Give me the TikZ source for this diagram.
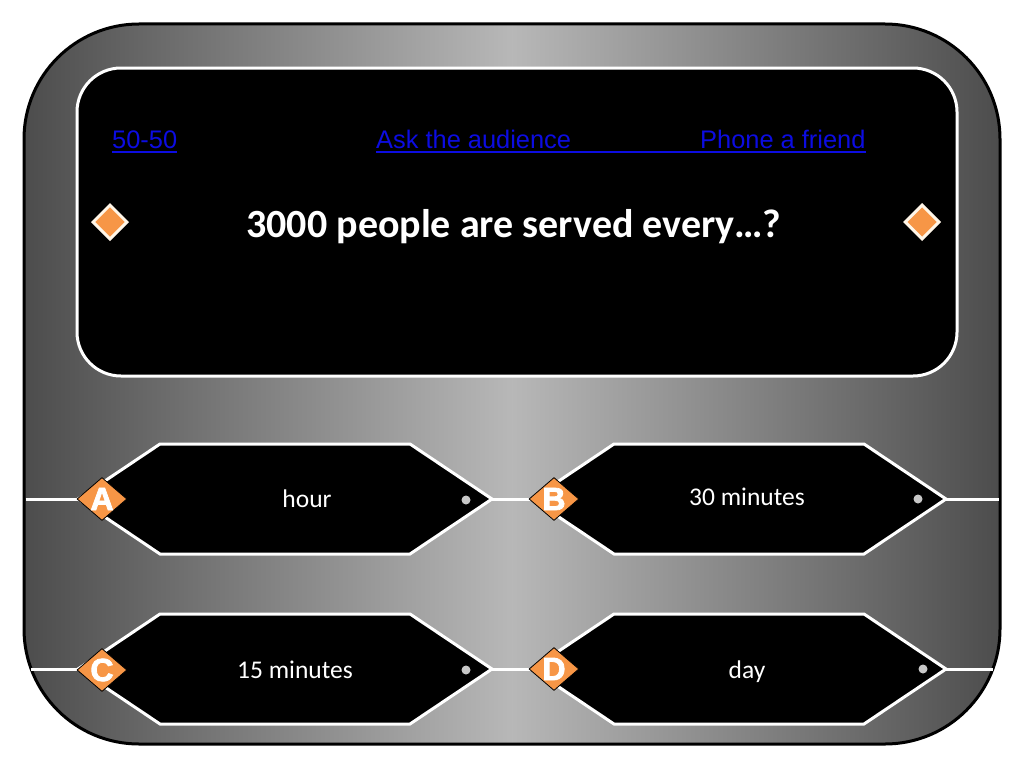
\documentclass[tikz,border=0pt]{standalone}
\usepackage{fontspec}
\setmainfont{Carlito}
\newfontfamily\arialf{Liberation Sans}
\newfontfamily\letterfont[FakeBold=2.5]{Liberation Sans}
\usetikzlibrary{shapes.geometric}
\definecolor{qorange}{HTML}{F79646}
\definecolor{linkblue}{RGB}{12,12,225}
\definecolor{dotgrey}{HTML}{C8C8C8}
\definecolor{cream}{HTML}{FFF6E8}
\tikzset{
 frame/.style={draw=black, line width=3pt, rounded corners=115pt, left color=black!70, right color=black!70, middle color=black!28},
 panel/.style={draw=white, line width=3pt, fill=black, rounded corners=44pt},
 hexbox/.style={draw=white, line width=3pt, fill=black, line join=miter},
 wire/.style={draw=white, line width=3pt},
 lifeline/.style={text=linkblue, font=\arialf\fontsize{25.4}{30}\selectfont, inner sep=0pt, anchor=base west},
 ulineblue/.style={draw=linkblue, line width=1.6pt},
 question/.style={text=white, font=\bfseries\fontsize{40}{46}\selectfont, inner sep=0pt, anchor=base},
 anstext/.style={text=white, font=\fontsize{25.5}{30}\selectfont, inner sep=0pt, anchor=base},
 letterbox/.style={diamond, fill=qorange, draw=black, line width=0.8pt, minimum width=50pt, minimum height=43pt, inner sep=0pt},
 lettertext/.style={text=white, font=\letterfont\bfseries\fontsize{32}{36}\selectfont, inner sep=0pt},
 topgem/.style={diamond, fill=qorange, draw=cream, line width=3pt, minimum width=35pt, minimum height=35pt, inner sep=0pt},
 knob/.style={circle, fill=dotgrey, minimum size=9pt, inner sep=0pt},
}
\newcommand\ansbox[3]{%
 \draw[hexbox] (#2-207,#3) coordinate (#1-l) -- (#2-125,#3-55) -- (#2+125,#3-55) -- (#2+207,#3) coordinate (#1-r) -- (#2+125,#3+55) -- (#2-125,#3+55) -- cycle;
}
\begin{document}
\begin{tikzpicture}[x=1pt,y=-1pt]
\useasboundingbox (0,0) rectangle (1024,768);
\fill[white] (0,0) rectangle (1024,768);
% outer frame
\path[frame] (24,24) rectangle (1000,744);
% question panel
\path[panel] (77,68) rectangle (957,376);
% lifelines
\node[lifeline] (ff) at (112,148) {50-50\ };
\node[lifeline] (ask) at (376,148) {Ask the audience};
\node[lifeline] (phone) at (700,148) {Phone a friend};
\draw[ulineblue] ([yshift=-4pt]ff.base west) -- ([yshift=-4pt]ff.base east);
\draw[ulineblue] ([yshift=-4pt]ask.base west) -- ([yshift=-4pt]phone.base east);
% question
\node[topgem] (g1) at (110,222) {};
\node[topgem] (g2) at (922,222) {};
\node[question] (q) at (514,237) {3000 people are served every…?};
% answer boxes
\ansbox{A}{285}{499}
\ansbox{B}{739}{499}
\ansbox{C}{285}{669}
\ansbox{D}{739}{669}
\coordinate (w1l) at (25.5,499);
\coordinate (w1r) at (998.5,499);
\coordinate (w2l) at (31,669);
\coordinate (w2r) at (993,669);
\draw[wire] (w1l) -- (A-l);
\draw[wire] (A-r) -- (B-l);
\draw[wire] (B-r) -- (w1r);
\draw[wire] (w2l) -- (C-l);
\draw[wire] (C-r) -- (D-l);
\draw[wire] (D-r) -- (w2r);
% answer texts
\node[anstext] (ta) at (307,507) {hour};
\node[anstext] (tb) at (747,505) {30 minutes};
\node[anstext] (tc) at (295,678) {15 minutes};
\node[anstext] (td) at (747,678) {day};
% knobs
\node[knob] (ka) at (466,500) {};
\node[knob] (kb) at (918,499) {};
\node[knob] (kc) at (466,670) {};
\node[knob] (kd) at (923,669) {};
% letter diamonds
\node[letterbox] (la) at (102,499) {};
\node[letterbox] (lb) at (554,499) {};
\node[letterbox] (lc) at (102,670) {};
\node[letterbox] (ld) at (554,669) {};
\node[lettertext] at (la) {A};
\node[lettertext] at (lb) {B};
\node[lettertext] at (lc) {C};
\node[lettertext] at (ld) {D};
\end{tikzpicture}
\end{document}
